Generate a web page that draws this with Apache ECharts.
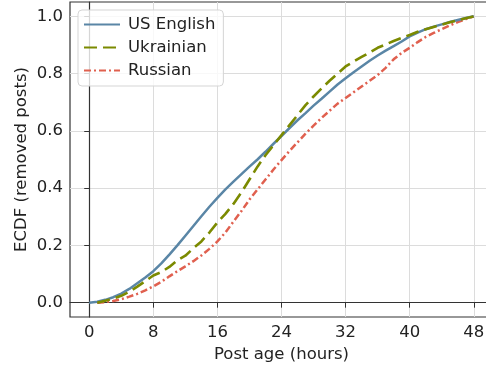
<!DOCTYPE html>
<html>
<head>
<meta charset="utf-8">
<script src="https://cdn.jsdelivr.net/npm/echarts@6/dist/echarts.min.js"></script>
<style>
  html, body { margin: 0; padding: 0; background: #fff; }
  #chart { width: 486px; height: 371px; }
</style>
</head>
<body>
<div id="chart"></div>
<script>
// hours since posting
const hours = [0,1,2,3,4,5,6,7,8,9,10,11,12,13,14,15,16,17,18,19,20,21,22,23,24,
  25,26,27,28,29,30,31,32,33,34,35,36,37,38,39,40,41,42,43,44,45,46,47,48]

const usEnglish = [0,0.003,0.01,0.019,0.032,0.048,0.068,0.088,0.11,0.137,0.168,0.2,0.234,0.268,0.302,0.335,0.366,
  0.396,0.423,0.449,0.475,0.5,0.527,0.555,0.582,0.61,0.637,0.662,0.688,0.712,0.737,0.762,0.784,
  0.805,0.825,0.845,0.863,0.88,0.896,0.912,0.93,0.943,0.955,0.964,0.972,0.98,0.987,0.994,1.0]

const ukrainian = [null,0,0.007,0.014,0.024,0.038,0.056,0.075,0.095,0.107,0.125,0.148,0.164,0.19,0.214,0.245,0.28,
  0.31,0.345,0.385,0.43,0.475,0.515,0.55,0.585,0.62,0.655,0.69,0.72,0.748,0.775,0.8,0.825,
  0.842,0.858,0.874,0.89,0.902,0.914,0.925,0.935,0.946,0.955,0.963,0.971,0.979,0.986,0.993,1.0]

const russian = [null,0,0.002,0.006,0.012,0.021,0.031,0.043,0.057,0.073,0.092,0.11,0.127,0.145,0.165,0.188,0.214,
  0.245,0.283,0.32,0.36,0.395,0.43,0.465,0.498,0.53,0.56,0.59,0.618,0.645,0.67,0.695,0.715,
  0.735,0.755,0.775,0.795,0.82,0.85,0.872,0.89,0.91,0.928,0.942,0.955,0.968,0.98,0.99,1.0]

const xTicks = [0, 8, 16, 24, 32, 40, 48]
const yTicks = [0, 0.2, 0.4, 0.6, 0.8, 1.0]

const font = 'DejaVu Sans'
const fs = 16.5
const pair = arr => hours.map((h, i) => [h, arr[i]])

let myChart = echarts.init(document.getElementById('chart'))

var option = {
  animation: false,
  textStyle: { fontFamily: font },
  grid: {
    left: 70, width: 423, top: 2, bottom: 54,
    outerBoundsMode: 'none', containLabel: false,
    show: true, borderColor: '#333', borderWidth: 1.2
  },
  legend: {
    left: 78, top: 10,
    orient: 'vertical',
    itemWidth: 36, itemHeight: 14, itemGap: 6,
    padding: [6, 8, 7, 5],
    borderColor: '#d5d5d5', borderWidth: 1, borderRadius: 4,
    backgroundColor: 'rgba(255,255,255,0.8)',
    itemStyle: { opacity: 0 },
    textStyle: { fontSize: fs, color: '#222', fontFamily: font, padding: [0, 0, 0, 3] },
    data: ['US English', 'Ukrainian', 'Russian']
  },
  xAxis: {
    type: 'value', min: -2.4, max: 50.4,
    name: 'Post age (hours)', nameLocation: 'middle', nameGap: 29,
    nameTextStyle: { fontSize: fs, color: '#222' },
    axisLine: { lineStyle: { color: '#333', width: 1.2 } },
    axisTick: { show: true, length: 5, customValues: xTicks, lineStyle: { color: '#333' } },
    axisLabel: { customValues: xTicks, fontSize: fs, color: '#222', margin: 7 },
    splitLine: { show: true, lineStyle: { color: '#dcdcdc', width: 1 } }
  },
  yAxis: {
    type: 'value', min: -0.05, max: 1.05,
    name: 'ECDF (removed posts)', nameLocation: 'middle', nameGap: 48,
    nameMoveOverlap: false,
    nameTextStyle: { fontSize: fs, color: '#222', verticalAlign: 'middle' },
    axisLine: { show: true, lineStyle: { color: '#333', width: 1.2 } },
    axisTick: { show: true, length: 5, customValues: yTicks, lineStyle: { color: '#333' } },
    axisLabel: { customValues: yTicks, fontSize: fs, color: '#222', margin: 7,
      formatter: v => v.toFixed(1) },
    splitLine: { show: true, lineStyle: { color: '#dcdcdc', width: 1 } }
  },
  series: [
    {
      name: 'US English', type: 'line', data: pair(usEnglish),
      symbol: 'none', z: 3,
      lineStyle: { color: '#5a86a6', width: 2.5 },
      itemStyle: { color: '#5a86a6' }
    },
    {
      name: 'Ukrainian', type: 'line', data: pair(ukrainian),
      symbol: 'none', z: 4,
      lineStyle: { color: '#7b8a00', width: 2.6, type: [13, 6] },
      itemStyle: { color: '#7b8a00' }
    },
    {
      name: 'Russian', type: 'line', data: pair(russian),
      symbol: 'none', z: 2,
      lineStyle: { color: '#e0604f', width: 2.5, type: [7, 3, 2, 3] },
      itemStyle: { color: '#e0604f' }
    }
  ]
}

myChart.setOption(option)
</script>
</body>
</html>
